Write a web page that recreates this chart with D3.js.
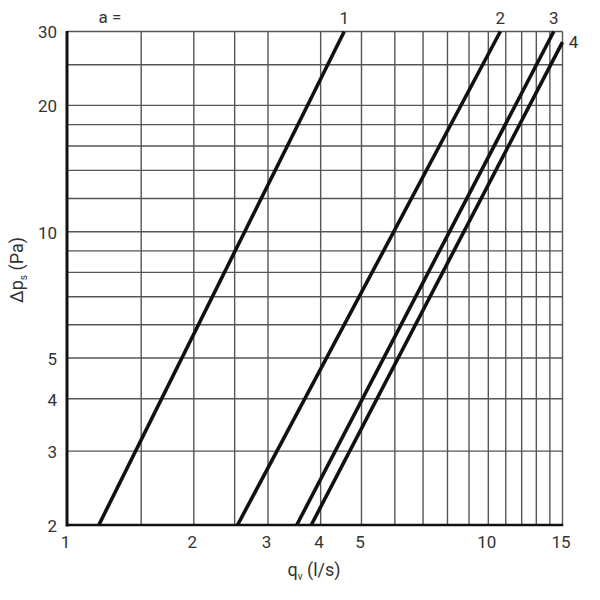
<!DOCTYPE html>
<html>
    <head>
        <script src="https://cdn.jsdelivr.net/npm/d3@7"></script>
    </head>
    <style>
        body { margin: 0; background: #fff; }
        text { font-family: 'Roboto', 'Liberation Sans', sans-serif; fill: #333; }
    </style>
    <body>
        <div id="canvas"></div>
        <script>
            // grid and tick values
            var xGrid = [1.5, 2, 2.5, 3, 4, 5, 6, 7, 8, 9, 10, 11, 12, 13, 14, 15];
            var yGrid = [3, 4, 5, 6, 7, 8, 9, 10, 12, 14, 16, 18, 20, 25, 30];
            var xTicks = [1, 2, 3, 4, 5, 10, 15];
            var yTicks = [2, 3, 4, 5, 10, 20, 30];

            // curves: a = 1..4, each [q (l/s), dp (Pa)]
            var curveNames = ['1', '2', '3', '4'];
            var curve1 = [[1.19, 2], [4.55, 30]];
            var curve2 = [[2.54, 2], [10.68, 30]];
            var curve3 = [[3.51, 2], [14.3, 30]];
            var curve4 = [[3.80, 2], [15, 28.3]];
            var curves = [curve1, curve2, curve3, curve4];

            const w = 600;
            const h = 600;
            const pLeft = 67, pRight = 562.5, pTop = 31.5, pBottom = 525;

            const svg = d3.select('#canvas')
                .append('svg')
                .attr('width', w)
                .attr('height', h);

            const x = d3.scaleLog().domain([1, 15]).range([pLeft, pRight]);
            const y = d3.scaleLog().domain([2, 30]).range([pBottom, pTop]);

            // grid
            svg.append('g').selectAll('line')
                .data(xGrid)
                .enter()
                .append('line')
                .attr('x1', d => x(d)).attr('x2', d => x(d))
                .attr('y1', pTop).attr('y2', pBottom)
                .attr('stroke', '#555').attr('stroke-width', 1.4);

            svg.append('g').selectAll('line')
                .data(yGrid)
                .enter()
                .append('line')
                .attr('x1', pLeft).attr('x2', pRight)
                .attr('y1', d => y(d)).attr('y2', d => y(d))
                .attr('stroke', '#555').attr('stroke-width', 1.4);

            // frame: thick left and bottom
            svg.append('line')
                .attr('x1', pLeft).attr('x2', pLeft)
                .attr('y1', pTop - 0.5).attr('y2', pBottom + 1.5)
                .attr('stroke', '#111').attr('stroke-width', 3);
            svg.append('line')
                .attr('x1', pLeft).attr('x2', pRight + 0.7)
                .attr('y1', pBottom).attr('y2', pBottom)
                .attr('stroke', '#111').attr('stroke-width', 2.5);

            // axes (labels only)
            const xAxis = svg.append('g')
                .attr('transform', `translate(0,${pBottom})`)
                .call(d3.axisBottom(x).tickValues(xTicks).tickFormat(d3.format('d')).tickSize(0).tickPadding(11));
            const yAxis = svg.append('g')
                .attr('transform', `translate(${pLeft},0)`)
                .call(d3.axisLeft(y).tickValues(yTicks).tickFormat(d3.format('d')).tickSize(0).tickPadding(10));
            [xAxis, yAxis].forEach(a => {
                a.select('.domain').remove();
                a.selectAll('text')
                    .attr('font-size', '17px')
                    .attr('fill', '#333')
                    .style('font-family', "'Roboto', sans-serif");
            });
            xAxis.selectAll('text').attr('dx', '-2px');
            yAxis.selectAll('text').attr('dy', '0.38em');

            // curves
            const line = d3.line().x(d => x(d[0])).y(d => y(d[1]));
            svg.append('g').selectAll('path')
                .data(curves)
                .enter()
                .append('path')
                .attr('d', line)
                .attr('fill', 'none')
                .attr('stroke', '#111')
                .attr('stroke-width', 3.6);

            // curve labels
            svg.append('g').selectAll('text')
                .data(curves)
                .enter()
                .append('text')
                .text((d, i) => curveNames[i])
                .attr('x', (d, i) => i < 3 ? x(d[1][0]) : x(d[1][0]) + 11)
                .attr('y', (d, i) => i < 3 ? y(d[1][1]) - 8 : y(d[1][1]) + 6)
                .attr('text-anchor', 'middle')
                .attr('font-size', '17px');

            svg.append('text')
                .attr('x', 110).attr('y', 23)
                .attr('text-anchor', 'middle')
                .attr('font-size', '17px')
                .text('a =');

            // axis titles
            const xt = svg.append('text')
                .attr('x', 314).attr('y', 576)
                .attr('text-anchor', 'middle')
                .attr('font-size', '18px');
            xt.append('tspan').text('q');
            xt.append('tspan').text('v').attr('font-size', '10px').attr('dy', '4');
            xt.append('tspan').text(' (l/s)').attr('dy', '-4');

            const yt = svg.append('text')
                .attr('transform', 'translate(23,270) rotate(-90)')
                .attr('text-anchor', 'middle')
                .attr('font-size', '18px');
            yt.append('tspan').text('Δp');
            yt.append('tspan').text('s').attr('font-size', '10px').attr('dy', '4');
            yt.append('tspan').text(' (Pa)').attr('dy', '-4');
        </script>
    </body>
</html>
